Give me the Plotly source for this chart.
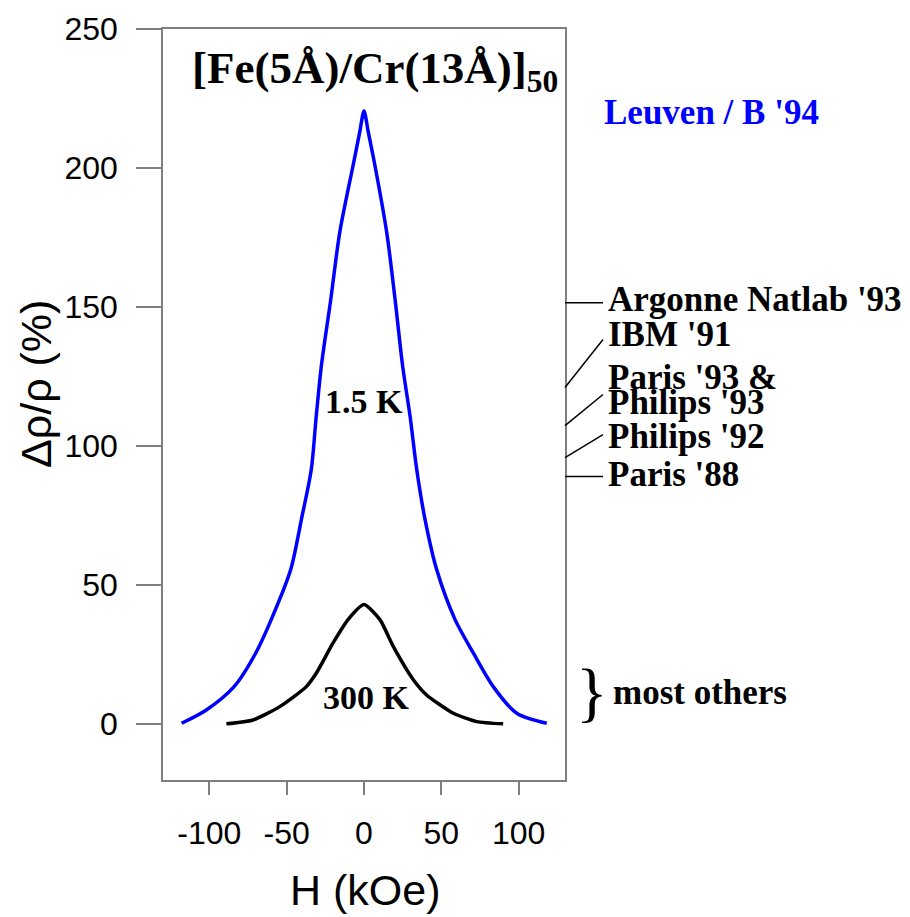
import plotly.graph_objects as go

# ---- data ----
h_15K = [-118, -102, -84, -70, -60, -47.4, -40.5, -34.1, -31, -27.6, -21.5, -15.7, -7.1, -2.8, 0,
         2.8, 7.1, 14.7, 20.1, 25.0, 29.8, 34.1, 39.5, 47.0, 58.9, 70.7, 83.6, 98.8, 118.2]
mr_15K = [0.2, 5.0, 13.4, 25.5, 37.5, 55.5, 73.5, 91.5, 110, 128.7, 152.7, 176.8, 200.8, 212.8, 220.5,
          212.8, 200.8, 176.8, 152.7, 128.7, 110.7, 91.5, 73.5, 55.5, 37.5, 25.5, 13.4, 3.8, 0.2]

h_300K = [-89, -71.8, -54.5, -37.3, -30.8, -20, -10.3, 0, 10.3, 19, 31.9, 40.5, 57.8, 72.9, 90]
mr_300K = [0, 1.4, 6.2, 13.4, 18.3, 29.1, 37.5, 42.9, 37.5, 27.8, 15.9, 10.4, 3.8, 0.8, 0]

x_ticks = [-100, -50, 0, 50, 100]
y_ticks = [0, 50, 100, 150, 200, 250]

# other labs: label text, label position, connector start / end values
lab_names = ["Argonne Natlab '93", "IBM '91", "Paris '93 &", "Philips '93", "Philips '92", "Paris '88"]
lab_label_y = [152.7, 140.1, 124.6, 115.6, 103.4, 89.7]
conn_from = [151.5, 121.0, None, 107.3, 95.8, 89.0]
conn_to = [151.5, 138.3, None, 118.5, 104.1, 89.0]

SERIF = "Liberation Serif"
SANS = "Liberation Sans"
AXC = "#7f7f7f"

fig = go.Figure()
fig.add_trace(go.Scatter(x=h_15K, y=mr_15K, mode="lines",
                         line=dict(color="#0000ff", width=3.5, shape="spline", smoothing=0.8),
                         showlegend=False, hoverinfo="skip"))
fig.add_trace(go.Scatter(x=h_300K, y=mr_300K, mode="lines",
                         line=dict(color="#000000", width=3.5, shape="spline", smoothing=0.6),
                         showlegend=False, hoverinfo="skip"))

x0 = 1.0
x1 = (603 - 163) / 402
xt = (606 - 163) / 402
for name, ly, a, b in zip(lab_names, lab_label_y, conn_from, conn_to):
    if a is not None:
        fig.add_shape(type="line", xref="paper", yref="y", x0=x0, x1=x1, y0=a, y1=b,
                      line=dict(color="black", width=1.5))
    fig.add_annotation(x=xt, y=ly, xref="paper", yref="y", text="<b>%s</b>" % name,
                       showarrow=False, xanchor="left", yanchor="middle",
                       font=dict(family=SERIF, size=35, color="black"))

fig.add_annotation(x=(602 - 163) / 402, y=220.0, xref="paper", yref="y",
                   text="<b>Leuven / B '94</b>", showarrow=False, xanchor="left", yanchor="middle",
                   font=dict(family=SERIF, size=35, color="#0000ff"))

fig.add_annotation(x=(592 - 163) / 402, y=11.5, xref="paper", yref="y", text="}",
                   showarrow=False, xanchor="center", yanchor="middle",
                   font=dict(family=SERIF, size=66, color="black"))
fig.add_annotation(x=(611 - 163) / 402, y=11.2, xref="paper", yref="y", text="<b>most others</b>",
                   showarrow=False, xanchor="left", yanchor="middle",
                   font=dict(family=SERIF, size=35, color="black"))

fig.add_annotation(x=0, y=(724 - 402) / 2.776, xref="x", yref="y", text="<b>1.5 K</b>",
                   showarrow=False, xanchor="center", yanchor="middle",
                   font=dict(family=SERIF, size=34, color="black"))
fig.add_annotation(x=1.5, y=(724 - 698) / 2.776, xref="x", yref="y", text="<b>300 K</b>",
                   showarrow=False, xanchor="center", yanchor="middle",
                   font=dict(family=SERIF, size=34, color="black"))

fig.add_annotation(x=(375 - 163) / 402, y=(724 - 72) / 2.776, xref="paper", yref="y",
                   text="<b>[Fe(5Å)/Cr(13Å)]<sub>50</sub></b>", showarrow=False,
                   xanchor="center", yanchor="middle",
                   font=dict(family=SERIF, size=45, color="black"))

# axis titles as annotations (placed in paper coordinates)
PLOT_H = 780 - 29
fig.add_annotation(x=(36 - 163) / 402, y=(780 - 384) / PLOT_H, xref="paper", yref="paper",
                   text="Δρ/ρ (%)", textangle=-90, showarrow=False,
                   xanchor="center", yanchor="middle",
                   font=dict(family=SANS, size=43, color="black"))
fig.add_annotation(x=(365 - 163) / 402, y=(780 - 890) / PLOT_H, xref="paper", yref="paper",
                   text="H (kOe)", showarrow=False, xanchor="center", yanchor="middle",
                   font=dict(family=SANS, size=43, color="black"))

fig.update_layout(
    width=910, height=917,
    margin=dict(l=163, r=345, t=29, b=137),
    paper_bgcolor="white", plot_bgcolor="white",
    template="none",
    xaxis=dict(range=[-130, 130], tickvals=x_ticks, ticktext=[str(v) for v in x_ticks],
               ticks="outside", ticklen=13, tickwidth=1.5, tickcolor=AXC,
               showline=True, linecolor=AXC, linewidth=1.5, mirror=True,
               showgrid=False, zeroline=False, automargin=False,
               tickfont=dict(family=SANS, size=32, color="black"),
               ticklabelstandoff=11),
    yaxis=dict(range=[-20.2, 250], tickvals=y_ticks, ticktext=[str(v) for v in y_ticks],
               ticks="outside", ticklen=25, tickwidth=1.5, tickcolor=AXC,
               showline=True, linecolor=AXC, linewidth=1.5, mirror=True,
               showgrid=False, zeroline=False, automargin=False,
               tickfont=dict(family=SANS, size=32, color="black"),
               ticklabelstandoff=12),
)

fig.write_html("out.html")
